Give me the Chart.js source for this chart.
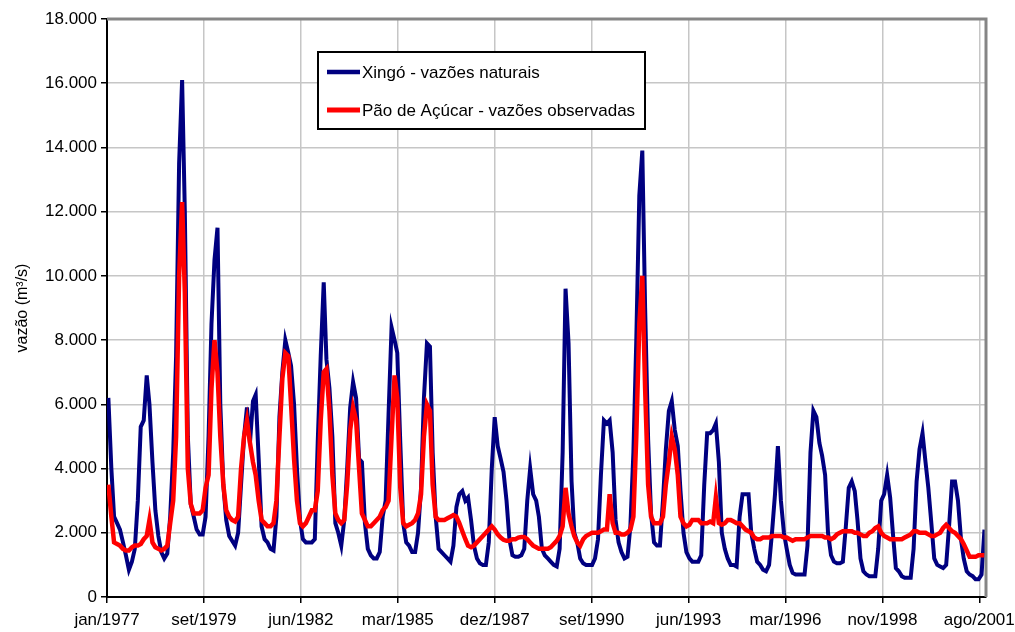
<!DOCTYPE html>
<html lang="pt-BR">
<head>
<meta charset="utf-8">
<title>Vazões - Xingó e Pão de Açúcar</title>
<script src="https://cdn.jsdelivr.net/npm/chart.js@4.4.1/dist/chart.umd.min.js"></script>
<style>
  html, body { margin: 0; padding: 0; background: #fff; }
  #wrap { width: 1015px; height: 632px; }
</style>
</head>
<body>
<div id="wrap"><canvas id="vazoes" width="1015" height="632"></canvas></div>
<script>
// médias mensais de jan/1977 a out/2001, em m³/s
const anoInicial = 1977;

const xingo = [
  6200, 4000, 2500, 2300, 2100, 1700, 1300, 850, 1100, 1500, 3000, 5300,          // 1977
  5500, 6900, 6000, 4200, 2700, 1900, 1400, 1200, 1350, 2500, 4500, 7500,         // 1978
  13500, 16100, 12000, 5000, 2900, 2500, 2100, 1950, 1950, 2500, 5000, 8500,      // 1979
  10500, 11500, 6000, 3500, 2400, 1900, 1750, 1600, 2000, 3500, 5000, 5900,       // 1980
  4800, 6100, 6300, 4300, 2200, 1800, 1700, 1500, 1450, 2500, 5600, 7000,         // 1981
  8000, 7600, 7200, 6000, 4000, 2400, 1800, 1700, 1700, 1700, 1800, 4800,         // 1982
  7500, 9800, 7400, 6500, 5000, 2300, 2000, 1600, 2400, 4000, 5900, 6700,         // 1983
  6200, 4300, 4200, 2300, 1500, 1300, 1200, 1200, 1400, 2500, 3000, 5700,         // 1984
  8400, 8000, 7600, 4800, 2300, 1700, 1600, 1400, 1400, 2000, 3400, 6200,         // 1985
  7900, 7800, 4500, 2500, 1500, 1400, 1300, 1200, 1100, 1600, 2800, 3200,         // 1986
  3300, 3000, 3100, 2400, 1600, 1200, 1050, 1000, 1000, 1700, 4000, 5600,         // 1987
  4700, 4300, 3900, 3000, 1800, 1300, 1250, 1250, 1300, 1500, 3000, 4000,         // 1988
  3200, 3000, 2500, 1500, 1300, 1200, 1100, 1000, 950, 1500, 4500, 9600,          // 1989
  7900, 3600, 2000, 1700, 1200, 1050, 1000, 1000, 1000, 1200, 1800, 3800,         // 1990
  5500, 5400, 5500, 4500, 2400, 1700, 1400, 1200, 1250, 2200, 4500, 8000,         // 1991
  12500, 13900, 9000, 4900, 2600, 1700, 1600, 1600, 3000, 4600, 5800, 6100,       // 1992
  5200, 4700, 3300, 2000, 1400, 1200, 1100, 1100, 1100, 1300, 3500, 5100,         // 1993
  5100, 5200, 5400, 4200, 2000, 1500, 1200, 1000, 1000, 950, 2500, 3200,          // 1994
  3200, 3200, 2000, 1500, 1100, 1000, 850, 800, 1000, 2000, 3200, 4700,           // 1995
  3000, 2000, 1500, 1000, 750, 700, 700, 700, 700, 1600, 4500, 5800,              // 1996
  5600, 4800, 4400, 3800, 2000, 1300, 1100, 1050, 1050, 1100, 2200, 3400,         // 1997
  3600, 3300, 2400, 1200, 800, 700, 650, 650, 650, 1500, 3000, 3200,              // 1998
  3800, 3100, 2000, 900, 800, 650, 600, 600, 600, 1500, 3600, 4600,               // 1999
  5100, 4200, 3400, 2300, 1200, 1000, 950, 900, 1000, 2200, 3600, 3600,           // 2000
  3000, 1800, 1200, 800, 700, 650, 550, 550, 700, 2100                            // 2001
];

const paoDeAcucar = [
  3500, 2500, 1700, 1650, 1600, 1500, 1450, 1450, 1550, 1600, 1600, 1650,         // 1977
  1800, 1900, 2400, 1700, 1550, 1500, 1450, 1500, 1600, 2300, 3000, 5000,         // 1978
  10000, 12300, 9500, 4000, 2900, 2600, 2600, 2600, 2700, 3400, 3800, 6500,       // 1979
  8000, 7000, 5000, 3500, 2700, 2500, 2400, 2350, 2500, 4000, 5000, 5500,         // 1980
  4800, 4200, 3800, 3000, 2400, 2300, 2200, 2200, 2300, 3000, 5000, 6800,         // 1981
  7600, 7500, 6000, 4300, 3000, 2300, 2200, 2300, 2500, 2700, 2700, 3300,         // 1982
  5500, 7000, 7100, 5800, 3800, 2600, 2400, 2300, 2400, 3500, 5200, 5900,         // 1983
  5500, 4000, 2600, 2400, 2200, 2200, 2300, 2400, 2500, 2700, 2800, 3000,         // 1984
  5000, 6900, 6200, 3400, 2300, 2200, 2250, 2300, 2400, 2600, 3200, 5000,         // 1985
  6000, 5800, 3500, 2500, 2400, 2400, 2400, 2450, 2500, 2550, 2500, 2300,         // 1986
  2050, 1800, 1600, 1550, 1600, 1700, 1800, 1900, 2000, 2100, 2200, 2100,         // 1987
  1950, 1850, 1780, 1750, 1750, 1800, 1800, 1850, 1870, 1870, 1800, 1700,         // 1988
  1600, 1550, 1500, 1500, 1500, 1500, 1550, 1650, 1750, 1900, 2200, 3400,         // 1989
  2600, 2200, 1900, 1700, 1600, 1800, 1900, 1950, 2000, 2000, 2000, 2050,         // 1990
  2100, 2100, 3200, 2300, 2000, 2000, 1950, 1950, 2000, 2100, 2500, 5000,         // 1991
  8500, 10000, 6500, 3500, 2500, 2300, 2300, 2300, 2500, 3500, 4200, 5000,        // 1992
  4600, 3800, 2500, 2300, 2200, 2250, 2400, 2400, 2400, 2300, 2300, 2300,         // 1993
  2350, 2300, 3100, 2300, 2250, 2300, 2400, 2400, 2350, 2300, 2300, 2200,         // 1994
  2100, 2050, 2000, 1850, 1800, 1800, 1850, 1850, 1850, 1900, 1900, 1900,         // 1995
  1900, 1850, 1850, 1800, 1750, 1800, 1800, 1800, 1800, 1850, 1900, 1900,         // 1996
  1900, 1900, 1900, 1850, 1850, 1800, 1850, 1950, 2000, 2050, 2050, 2050,         // 1997
  2050, 2000, 2000, 1950, 1900, 1900, 2000, 2050, 2150, 2200, 2000, 1900,         // 1998
  1850, 1800, 1800, 1800, 1800, 1800, 1850, 1900, 1950, 2050, 2050, 2000,         // 1999
  2000, 2000, 1950, 1900, 1900, 1950, 2000, 2150, 2250, 2150, 2050, 2000,         // 2000
  1900, 1800, 1650, 1450, 1250, 1250, 1250, 1300, 1300, 1300                      // 2001
];

// rótulos do eixo x, um a cada 1000 dias a partir de 01/01/1977
const tickLabels = ['jan/1977', 'set/1979', 'jun/1982', 'mar/1985', 'dez/1987',
                    'set/1990', 'jun/1993', 'mar/1996', 'nov/1998', 'ago/2001'];
const passoDias = 1000;

const DIA = 86400000;
const base = Date.UTC(anoInicial, 0, 1);
const diaDoMes = m => (Date.UTC(anoInicial, m, 15) - base) / DIA;
const ultimoDia = (Date.UTC(2001, 9, 31) - base) / DIA;

const serie = valores => valores.map((v, m) => ({ x: diaDoMes(m), y: v }));
const milhar = v => String(v).replace(/\B(?=(\d{3})+(?!\d))/g, '.');

const fonte = '"Liberation Sans", Arial, sans-serif';

// moldura cinza em cima e à direita da área do gráfico
const moldura = {
  id: 'moldura',
  afterDatasetsDraw(chart) {
    const { ctx, chartArea: a } = chart;
    ctx.save();
    ctx.strokeStyle = '#858585';
    ctx.lineWidth = 3;
    ctx.beginPath();
    ctx.moveTo(a.left, a.top);
    ctx.lineTo(a.right, a.top);
    ctx.lineTo(a.right, a.bottom);
    ctx.stroke();
    ctx.restore();
  }
};

// legenda em caixa, dentro da área do gráfico
const legendaCaixa = {
  id: 'legendaCaixa',
  afterDraw(chart) {
    const ctx = chart.ctx;
    const x = 318, y = 52, w = 327, h = 77;
    ctx.save();
    ctx.fillStyle = '#fff';
    ctx.fillRect(x, y, w, h);
    ctx.strokeStyle = '#000';
    ctx.lineWidth = 2;
    ctx.strokeRect(x, y, w, h);
    ctx.font = '17px ' + fonte;
    ctx.textBaseline = 'middle';
    chart.data.datasets.forEach((ds, i) => {
      const ly = y + 20 + i * 38;
      ctx.strokeStyle = ds.borderColor;
      ctx.lineWidth = ds.borderWidth + 0.5;
      ctx.beginPath();
      ctx.moveTo(x + 9, ly);
      ctx.lineTo(x + 42, ly);
      ctx.stroke();
      ctx.fillStyle = '#000';
      ctx.fillText(ds.label, x + 44, ly + 1);
    });
    ctx.restore();
  }
};

new Chart(document.getElementById('vazoes'), {
  type: 'line',
  data: {
    datasets: [
      {
        label: 'Xingó - vazões naturais',
        data: serie(xingo),
        borderColor: '#000080',
        borderWidth: 4,
        order: 2
      },
      {
        label: 'Pão de Açúcar - vazões observadas',
        data: serie(paoDeAcucar),
        borderColor: '#ff0000',
        borderWidth: 4.5,
        order: 1
      }
    ]
  },
  options: {
    responsive: false,
    animation: false,
    parsing: false,
    elements: {
      point: { radius: 0 },
      line: { tension: 0, fill: false, borderJoinStyle: 'miter' }
    },
    layout: { padding: { top: 19, right: 29, left: 0, bottom: 0 } },
    plugins: {
      legend: { display: false },
      tooltip: { enabled: false }
    },
    scales: {
      x: {
        type: 'linear',
        min: 0,
        max: ultimoDia,
        afterBuildTicks(scale) {
          scale.ticks = tickLabels.map((_, i) => ({ value: i * passoDias }));
        },
        afterFit(scale) {
          scale.height = 35;
          scale.paddingLeft = 0;
          scale.paddingRight = 0;
        },
        ticks: {
          callback: v => tickLabels[Math.round(v / passoDias)],
          autoSkip: false,
          maxRotation: 0,
          padding: 7,
          color: '#000',
          font: { family: fonte, size: 17 }
        },
        grid: { color: '#c6c6c6', lineWidth: 1.5, tickColor: '#000', tickLength: 6 },
        border: { color: '#000', width: 2 }
      },
      y: {
        min: 0,
        max: 18000,
        afterFit(scale) { scale.width = 107; },
        ticks: {
          stepSize: 2000,
          callback: v => milhar(v),
          padding: 4,
          color: '#000',
          font: { family: fonte, size: 17 }
        },
        grid: { color: '#c6c6c6', lineWidth: 1.5, tickColor: '#000', tickLength: 6 },
        border: { color: '#000', width: 2 },
        title: {
          display: true,
          text: 'vazão (m³/s)',
          color: '#000',
          padding: { top: 13, bottom: 0 },
          font: { family: fonte, size: 16 }
        }
      }
    }
  },
  plugins: [moldura, legendaCaixa]
});
</script>
</body>
</html>
